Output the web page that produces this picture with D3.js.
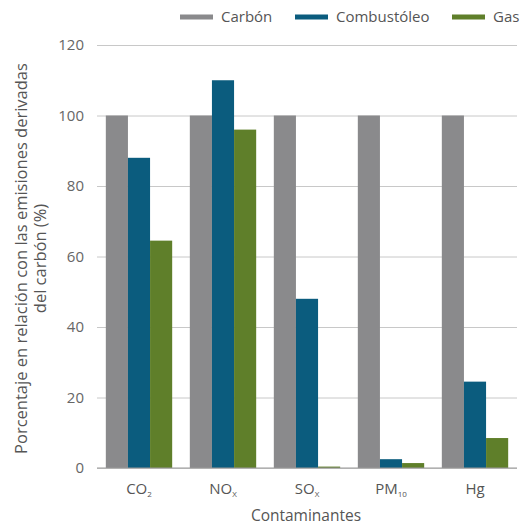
<!DOCTYPE html>
<html>
<head>
<meta charset="utf-8">
<script src="https://cdn.jsdelivr.net/npm/d3@7"></script>
<style>
  body { margin: 0; background: #fff; }
  text { font-family: "Open Sans", sans-serif; fill: #555; }
</style>
</head>
<body>
<div id="chart"></div>
<script>
// data
var contaminantes = ["CO2", "NOX", "SOX", "PM10", "Hg"];
var labelBase = ["CO", "NO", "SO", "PM", "Hg"];
var labelSub = ["2", "X", "X", "10", ""];
var series = ["Carbón", "Combustóleo", "Gas"];
var carbon = [100, 100, 100, 100, 100];
var combustoleo = [88, 110, 48, 2.5, 24.5];
var gas = [64.5, 96, 0.4, 1.4, 8.5];
var yTicks = [0, 20, 40, 60, 80, 100, 120];

var colors = ["#8a8a8c", "#0b5c7e", "#5f7f2a"];

var W = 521, H = 527;
var margin = { left: 97, right: 4, top: 45, bottom: 59 };
var w = W - margin.left - margin.right;
var h = H - margin.top - margin.bottom;

var svg = d3.select("#chart").append("svg")
    .attr("width", W)
    .attr("height", H);

var g = svg.append("g")
    .attr("transform", "translate(" + margin.left + "," + margin.top + ")");

var x0 = d3.scaleBand()
    .domain(contaminantes)
    .range([0, w])
    .paddingInner(0.21)
    .paddingOuter(0.105);

var x1 = d3.scaleBand()
    .domain(series)
    .range([0, x0.bandwidth()]);

var y = d3.scaleLinear()
    .domain([0, 120])
    .range([h, 0]);

// gridlines + y labels
var yAxis = d3.axisLeft(y)
    .tickValues(yTicks)
    .tickSize(-w)
    .tickPadding(13);

var yg = g.append("g").attr("class", "y axis").call(yAxis);
yg.select(".domain").remove();
yg.selectAll(".tick line").attr("stroke", "#c8c8c8").attr("stroke-width", 1);
yg.selectAll(".tick text")
    .attr("font-size", 15)
    .style("fill", "#666")
    .style("font-family", "Open Sans, sans-serif");

// bars
var table = contaminantes.map(function(c, i) {
    return { key: c, values: [carbon[i], combustoleo[i], gas[i]] };
});

var groups = g.selectAll(".grp")
    .data(table)
    .enter().append("g")
    .attr("class", "grp")
    .attr("transform", function(d) { return "translate(" + x0(d.key) + ",0)"; });

groups.selectAll("rect")
    .data(function(d) {
        return d.values.map(function(v, j) { return { s: series[j], v: v, c: colors[j] }; });
    })
    .enter().append("rect")
    .attr("x", function(d) { return x1(d.s); })
    .attr("width", x1.bandwidth())
    .attr("y", function(d) { return y(d.v); })
    .attr("height", function(d) { return h - y(d.v); })
    .attr("fill", function(d) { return d.c; });

// baseline
g.append("line")
    .attr("x1", 0).attr("x2", w)
    .attr("y1", h).attr("y2", h)
    .attr("stroke", "#999");

// x labels with subscripts
var xl = g.selectAll(".xlab")
    .data(contaminantes)
    .enter().append("text")
    .attr("class", "xlab")
    .attr("x", function(d) { return x0(d) + x0.bandwidth() / 2; })
    .attr("y", h + 26)
    .attr("text-anchor", "middle")
    .attr("font-size", 15);

xl.append("tspan").text(function(d, i) { return labelBase[i]; });
xl.append("tspan")
    .attr("font-size", 8)
    .attr("dy", 3)
    .text(function(d, i) { return labelSub[i]; });

// x axis title
g.append("text")
    .attr("x", w / 2 - 1)
    .attr("y", h + 53)
    .attr("text-anchor", "middle")
    .attr("font-size", 15.5)
    .text("Contaminantes");

// y axis title
var yt = svg.append("text")
    .attr("transform", "translate(27," + (margin.top + h / 2 + 2) + ") rotate(-90)")
    .attr("text-anchor", "middle")
    .attr("font-size", 16.5);
yt.append("tspan").attr("x", 0).attr("dy", 0)
    .text("Porcentaje en relación con las emisiones derivadas");
yt.append("tspan").attr("x", 0).attr("dy", 19)
    .text("del carbón (%)");

// legend
var legX = [180, 295, 452];
var leg = svg.selectAll(".leg")
    .data(series)
    .enter().append("g")
    .attr("class", "leg")
    .attr("transform", function(d, i) { return "translate(" + legX[i] + ",17)"; });

leg.append("rect")
    .attr("x", 0).attr("y", -2.5)
    .attr("width", 33).attr("height", 5)
    .attr("fill", function(d, i) { return colors[i]; });

leg.append("text")
    .attr("x", 41)
    .attr("y", 5)
    .attr("font-size", 15)
    .text(function(d) { return d; });
</script>
</body>
</html>
